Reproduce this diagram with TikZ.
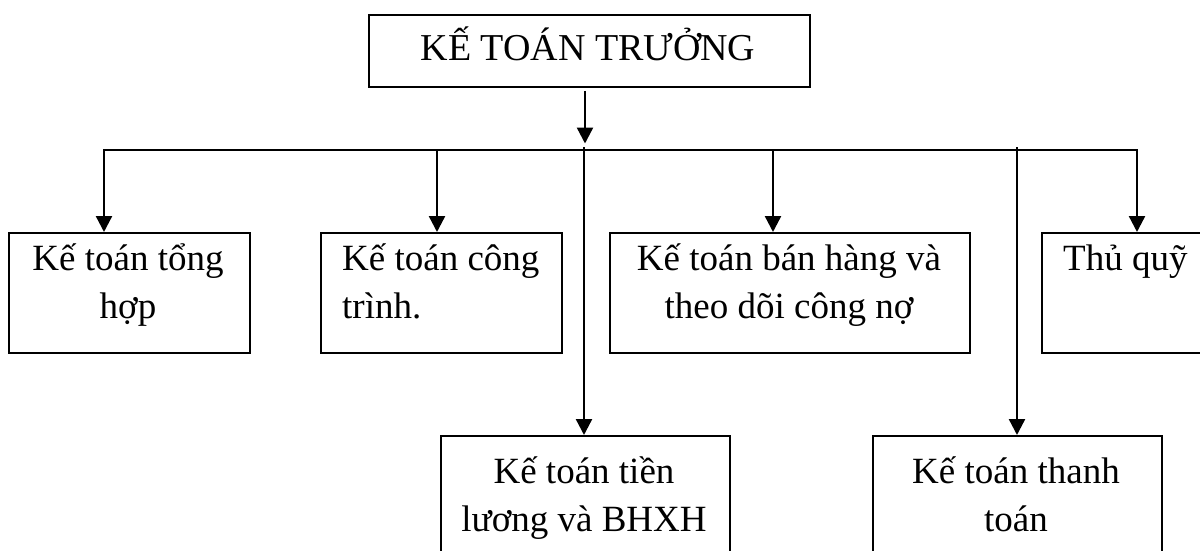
\documentclass[tikz,border=0pt]{standalone}
\usepackage{fontspec}
\setmainfont{Liberation Serif}
\usetikzlibrary{arrows.meta}
\begin{document}
\begin{tikzpicture}[x=1pt,y=-1pt,
  box/.style={draw, line width=1.6pt, inner sep=0pt, anchor=north west},
  lbl/.style={inner sep=0pt, font=\fontsize{37}{48}\selectfont},
  conn/.style={line width=2.4pt},
  arr/.style={conn, -{Triangle[length=16pt,width=16pt]}},
]
\useasboundingbox (0,0) rectangle (1200,551);
\clip (0,0) rectangle (1200,551);
% boxes
\node[box, minimum width=441pt, minimum height=72pt] (top) at (368,14) {};
\node[box, minimum width=241pt, minimum height=120pt] (b1) at (8,232) {};
\node[box, minimum width=241pt, minimum height=120pt] (b2) at (320,232) {};
\node[box, minimum width=360pt, minimum height=120pt] (b3) at (609,232) {};
\node[box, minimum width=170pt, minimum height=120pt] (b4) at (1041,232) {};
\node[box, minimum width=289pt, minimum height=130pt] (b5) at (440,435) {};
\node[box, minimum width=289pt, minimum height=130pt] (b6) at (872,435) {};
% texts
\node[lbl, font=\fontsize{38}{48}\selectfont, anchor=base] (ttop) at (588,61) {KẾ TOÁN TRƯỞNG};
\node[lbl, align=center, anchor=north] (t1) at (128,230) {\rule{0pt}{40pt}Kế toán tổng\\hợp};
\node[lbl, align=left, anchor=north west] (t2) at (342,230) {\rule{0pt}{40pt}Kế toán công\\trình.};
\node[lbl, align=center, anchor=north] (t3) at (789,230) {\rule{0pt}{40pt}Kế toán bán hàng và\\theo dõi công nợ};
\node[lbl, anchor=base west] (t4) at (1063,270) {Thủ quỹ};
\node[lbl, align=center, anchor=north] (t5) at (584,443) {\rule{0pt}{40pt}Kế toán tiền\\lương và BHXH};
\node[lbl, align=center, anchor=north] (t6) at (1016,443) {\rule{0pt}{40pt}Kế toán thanh\\toán};
% connectors
\coordinate (hub) at (585,150);
\coordinate (a0) at (585,91);
\coordinate (hl) at (104,150);
\coordinate (hr) at (1137,150);
\coordinate (j2) at (437,150);
\coordinate (j3) at (773,150);
\coordinate (j5) at (584,147);
\coordinate (j6) at (1017,147);
\draw[arr] (a0) -- ([yshift=6.5pt]hub);
\draw[arr] (hub) -| (hl |- b1.north);
\draw[arr] (hub) -| (hr |- b4.north);
\draw[arr] (j2) -- (j2 |- b2.north);
\draw[arr] (j3) -- (j3 |- b3.north);
\draw[arr] (j5) -- (j5 |- b5.north);
\draw[arr] (j6) -- (j6 |- b6.north);
\end{tikzpicture}
\end{document}
